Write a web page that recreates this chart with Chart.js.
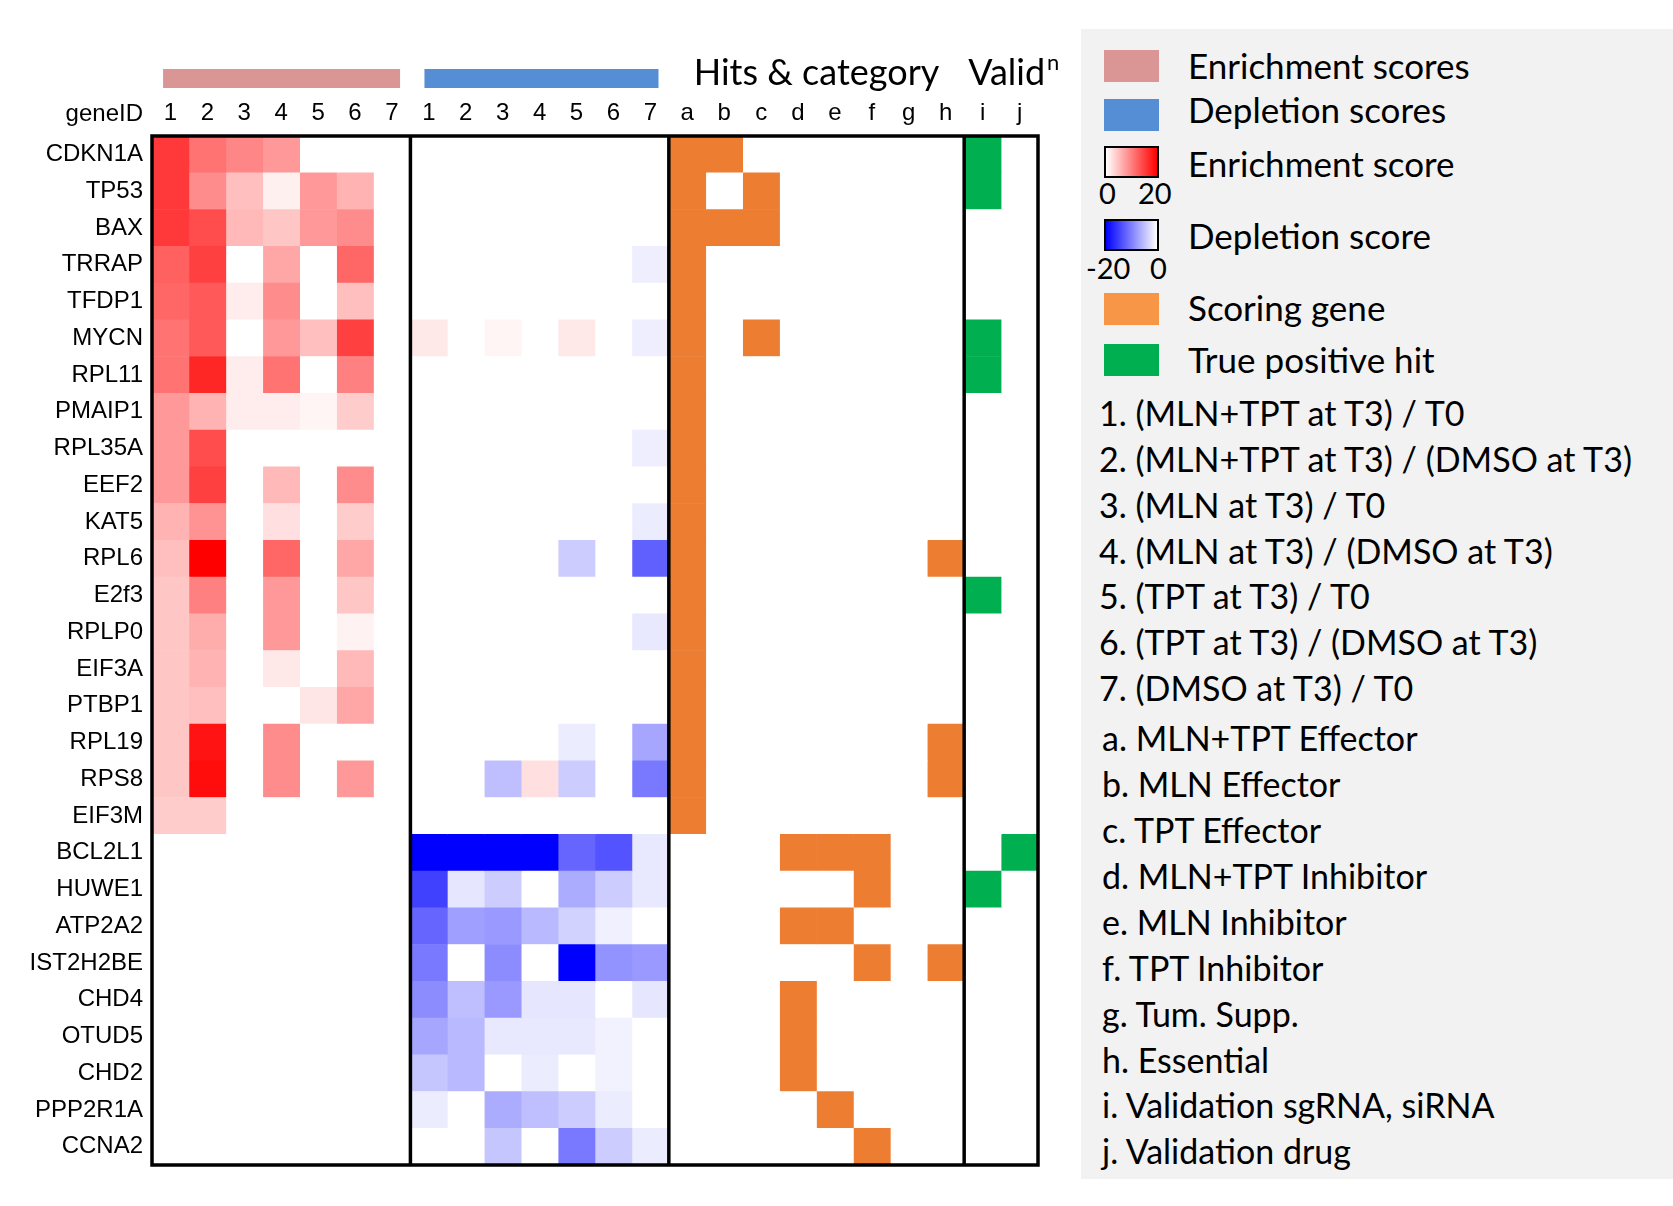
<!DOCTYPE html>
<html>
<head>
<meta charset="utf-8">
<script src="https://cdn.jsdelivr.net/npm/chart.js@4.4.1/dist/chart.umd.min.js"></script>
<style>
    html, body { margin: 0; padding: 0; background: #fff; }
    body { width: 1673px; height: 1206px; position: relative; overflow: hidden; font-family: Lato, sans-serif; color: #000; }
    #heat { position: absolute; left: 0; top: 0; }
    #legend { position: absolute; left: 1081px; top: 29px; width: 592px; height: 1150px; background: #f2f2f2; }
    .sw { position: absolute; left: 23px; width: 55px; height: 32px; box-sizing: border-box; }
    .lt { position: absolute; left: 107px; font-size: 35px; line-height: 40px; white-space: nowrap; }
    .num { position: absolute; font-size: 29px; line-height: 30px; white-space: nowrap; }
    .it { position: absolute; left: 18px; font-size: 34px; line-height: 40px; white-space: nowrap; }
</style>
</head>
<body>
<canvas id="heat" width="1078" height="1206"></canvas>

<div id="legend">
    <div class="sw" style="top:21px;background:#D99694"></div>
    <div class="lt" style="top:16px">Enrichment scores</div>
    <div class="sw" style="top:70px;background:#558ED5"></div>
    <div class="lt" style="top:60px">Depletion scores</div>
    <div class="sw" style="top:117px;border:2px solid #000;background:linear-gradient(to right,#fff,#f00)"></div>
    <div class="lt" style="top:114px">Enrichment score</div>
    <div class="num" style="left:18px;top:149px">0</div>
    <div class="num" style="left:57px;top:149px">20</div>
    <div class="sw" style="top:190px;border:2px solid #000;background:linear-gradient(to right,#00f,#fff)"></div>
    <div class="lt" style="top:186px">Depletion score</div>
    <div class="num" style="left:5px;top:224px">-20</div>
    <div class="num" style="left:69px;top:224px">0</div>
    <div class="sw" style="top:264px;background:#F79646"></div>
    <div class="lt" style="top:258px">Scoring gene</div>
    <div class="sw" style="top:315px;background:#00B050"></div>
    <div class="lt" style="top:310px">True positive hit</div>
    <div id="items"></div>
</div>

<script>
const genes = ['CDKN1A', 'TP53', 'BAX', 'TRRAP', 'TFDP1', 'MYCN', 'RPL11', 'PMAIP1', 'RPL35A', 'EEF2',
    'KAT5', 'RPL6', 'E2f3', 'RPLP0', 'EIF3A', 'PTBP1', 'RPL19', 'RPS8', 'EIF3M', 'BCL2L1',
    'HUWE1', 'ATP2A2', 'IST2H2BE', 'CHD4', 'OTUD5', 'CHD2', 'PPP2R1A', 'CCNA2'];

const colLabels = ['1', '2', '3', '4', '5', '6', '7', '1', '2', '3', '4', '5', '6', '7',
    'a', 'b', 'c', 'd', 'e', 'f', 'g', 'h', 'i', 'j'];

// enrichment scores (0..20), columns 1-7
const enrichment = [
    [15.5, 11, 9.5, 8, 0, 0, 0],
    [15.5, 9, 5, 1.2, 8, 6, 0],
    [15.5, 14, 5.5, 4.5, 8, 9, 0],
    [12.5, 15, 0, 7, 0, 12, 0],
    [12, 13, 1.5, 9, 0, 5, 0],
    [11, 13, 0, 8, 5, 15, 0],
    [11, 17, 1.5, 11, 0, 10, 0],
    [8, 6, 1.5, 1.5, 0.8, 4, 0],
    [8, 14, 0, 0, 0, 0, 0],
    [8, 15, 0, 5.5, 0, 9, 0],
    [6, 8.5, 0, 2.5, 0, 4, 0],
    [5, 20, 0, 12, 0, 7, 0],
    [4.5, 10, 0, 8, 0, 4.5, 0],
    [4.5, 6.5, 0, 8, 0, 1, 0],
    [4.5, 6, 0, 1.8, 0, 5.5, 0],
    [4.5, 5, 0, 0, 2, 7, 0],
    [4.5, 18.5, 0, 9, 0, 0, 0],
    [4.5, 19, 0, 9, 0, 8, 0],
    [4, 4, 0, 0, 0, 0, 0],
    [0, 0, 0, 0, 0, 0, 0],
    [0, 0, 0, 0, 0, 0, 0],
    [0, 0, 0, 0, 0, 0, 0],
    [0, 0, 0, 0, 0, 0, 0],
    [0, 0, 0, 0, 0, 0, 0],
    [0, 0, 0, 0, 0, 0, 0],
    [0, 0, 0, 0, 0, 0, 0],
    [0, 0, 0, 0, 0, 0, 0],
    [0, 0, 0, 0, 0, 0, 0]
];

// depletion scores (-20..0), columns 1-7
const depletion = [
    [0, 0, 0, 0, 0, 0, 0],
    [0, 0, 0, 0, 0, 0, 0],
    [0, 0, 0, 0, 0, 0, 0],
    [0, 0, 0, 0, 0, 0, -1.3],
    [0, 0, 0, 0, 0, 0, 0],
    [1.8, 0, 0.8, 0, 1.8, 0, -1.3],
    [0, 0, 0, 0, 0, 0, 0],
    [0, 0, 0, 0, 0, 0, 0],
    [0, 0, 0, 0, 0, 0, -1.3],
    [0, 0, 0, 0, 0, 0, 0],
    [0, 0, 0, 0, 0, 0, -1.5],
    [0, 0, 0, 0, -4, 0, -12.5],
    [0, 0, 0, 0, 0, 0, 0],
    [0, 0, 0, 0, 0, 0, -1.8],
    [0, 0, 0, 0, 0, 0, 0],
    [0, 0, 0, 0, 0, 0, 0],
    [0, 0, 0, 0, -1.5, 0, -7],
    [0, 0, -5, 2.5, -4, 0, -10.5],
    [0, 0, 0, 0, 0, 0, 0],
    [-20, -20, -20, -20, -12, -13.5, -1.8],
    [-15, -2, -4, 0, -6.5, -4, -1.8],
    [-12, -7.5, -8, -5.5, -3.5, -1.2, 0],
    [-10.5, 0, -9, 0, -20, -8.5, -8],
    [-9, -5, -8, -2, -2, 0, -2],
    [-7, -5.5, -1.8, -1.8, -1.8, -1, 0],
    [-4.5, -5.5, 0, -1.5, 0, -1, 0],
    [-1.5, 0, -6.5, -5, -4, -1.5, 0],
    [0, 0, -4.5, 0, -10.5, -4, -1.5]
];

// hit categories a-h per gene
const hits = ['ab', 'ac', 'abc', 'a', 'a', 'ac', 'a', 'a', 'a', 'a',
    'a', 'ah', 'a', 'a', 'a', 'a', 'ah', 'ah', 'a', 'def',
    'f', 'de', 'fh', 'd', 'd', 'd', 'e', 'f'];

// validation i-j per gene
const validation = ['i', 'i', '', '', '', 'i', 'i', '', '', '',
    '', '', 'i', '', '', '', '', '', '', 'j',
    'i', '', '', '', '', '', '', ''];

const legendItems = ['1. (MLN+TPT at T3) / T0', '2. (MLN+TPT at T3) / (DMSO at T3)', '3. (MLN at T3) / T0',
    '4. (MLN at T3) / (DMSO at T3)', '5. (TPT at T3) / T0', '6. (TPT at T3) / (DMSO at T3)', '7. (DMSO at T3) / T0',
    'a. MLN+TPT Effector', 'b. MLN Effector', 'c. TPT Effector', 'd. MLN+TPT Inhibitor', 'e. MLN Inhibitor',
    'f. TPT Inhibitor', 'g. Tum. Supp.', 'h. Essential', 'i. Validation sgRNA, siRNA', 'j. Validation drug'];
const itemTops = [364, 410, 456, 502, 547, 593, 639, 689, 735, 781, 827, 873, 919, 965, 1011, 1056, 1102];

const ORANGE = '#ED7D31';
const GREEN = '#00B050';

const itemsEl = document.getElementById('items');
legendItems.forEach((t, i) => {
    const d = document.createElement('div');
    d.className = 'it';
    d.style.top = itemTops[i] + 'px';
    if (i > 6) d.style.left = '21px';
    d.textContent = t;
    itemsEl.appendChild(d);
});

function scoreColour(v) {
    const t = Math.min(Math.abs(v) / 20, 1);
    const k = Math.round(255 * (1 - t));
    return v >= 0 ? `rgb(255,${k},${k})` : `rgb(${k},${k},255)`;
}

function cellColour(r, c) {
    if (c < 7) return scoreColour(enrichment[r][c]);
    if (c < 14) return scoreColour(depletion[r][c - 7]);
    if (c < 22) return hits[r].includes('abcdefgh'[c - 14]) ? ORANGE : '#ffffff';
    return validation[r].includes('ij'[c - 22]) ? GREEN : '#ffffff';
}

const datasets = colLabels.map((lab, c) => ({
    label: lab,
    data: genes.map(() => [c, c + 1]),
    backgroundColor: genes.map((g, r) => cellColour(r, c)),
    borderWidth: 0,
    grouped: false,
    barPercentage: 1,
    categoryPercentage: 1
}));

const frame = {
    id: 'frame',
    afterDatasetsDraw(chart) {
        const { ctx, chartArea: a, scales: { x } } = chart;
        ctx.save();
        ctx.strokeStyle = '#000';
        ctx.lineWidth = 3.5;
        ctx.strokeRect(a.left, a.top, a.right - a.left, a.bottom - a.top);
        [7, 14, 22].forEach(v => {
            const px = x.getPixelForValue(v);
            ctx.beginPath();
            ctx.moveTo(px, a.top);
            ctx.lineTo(px, a.bottom);
            ctx.stroke();
        });

        // group bars above the score columns
        ctx.fillStyle = '#D99694';
        ctx.fillRect(x.getPixelForValue(0.3), 69, x.getPixelForValue(6.72) - x.getPixelForValue(0.3), 19);
        ctx.fillStyle = '#558ED5';
        ctx.fillRect(x.getPixelForValue(7.38), 69, x.getPixelForValue(13.72) - x.getPixelForValue(7.38), 19);

        ctx.fillStyle = '#000';
        ctx.textBaseline = 'middle';
        ctx.font = '24px "Liberation Sans"';
        ctx.textAlign = 'right';
        ctx.fillText('geneID', a.left - 9, 114);

        ctx.font = '36px Lato';
        ctx.textAlign = 'center';
        ctx.fillText('Hits & category', x.getPixelForValue(18), 73);
        ctx.textAlign = 'left';
        const vx = x.getPixelForValue(22) + 4;
        ctx.fillText('Valid', vx, 73);
        const w = ctx.measureText('Valid').width;
        ctx.font = '22px Lato';
        ctx.fillText('n', vx + w + 2, 63);
        ctx.restore();
    }
};

new Chart(document.getElementById('heat'), {
    type: 'bar',
    data: { labels: genes, datasets: datasets },
    options: {
        indexAxis: 'y',
        responsive: false,
        animation: false,
        layout: { padding: { left: 0, right: 40, top: 0, bottom: 41 } },
        plugins: { legend: { display: false }, tooltip: { enabled: false } },
        scales: {
            x: {
                type: 'linear',
                position: 'top',
                min: 0,
                max: 24,
                grid: { display: false, drawTicks: false },
                border: { display: false },
                afterBuildTicks: axis => {
                    axis.ticks = colLabels.map((l, i) => ({ value: i + 0.5 }));
                },
                afterFit: axis => { axis.height = 136; },
                ticks: {
                    padding: 8,
                    autoSkip: false,
                    maxRotation: 0,
                    color: '#000',
                    font: { family: 'Liberation Sans', size: 24 },
                    callback: v => colLabels[Math.floor(v)]
                }
            },
            y: {
                grid: { display: false, drawTicks: false },
                border: { display: false },
                afterFit: axis => { axis.width = 152; },
                ticks: {
                    padding: 9,
                    autoSkip: false,
                    color: '#000',
                    font: { family: 'Liberation Sans', size: 24 }
                }
            }
        }
    },
    plugins: [frame]
});
</script>
</body>
</html>
